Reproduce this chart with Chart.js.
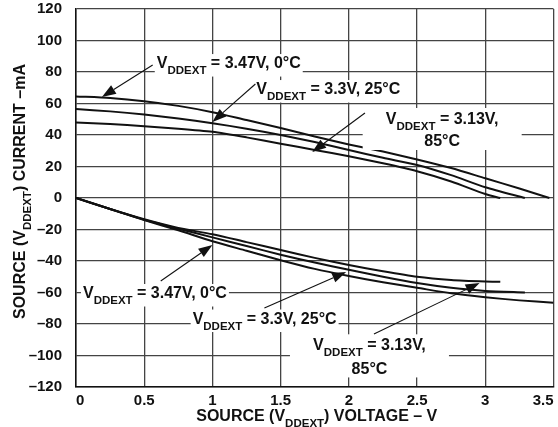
<!DOCTYPE html>
<html>
<head>
<meta charset="utf-8">
<script src="https://cdn.jsdelivr.net/npm/chart.js@4.4.1/dist/chart.umd.min.js"></script>
<style>
  html, body { margin: 0; padding: 0; background: #fff; }
  #wrap { width: 558px; height: 427px; }
</style>
</head>
<body>
<div id="wrap"><canvas id="chartIV"></canvas></div>
<script>
// source current (mA) vs source voltage (V)
const posV347 = [0, 0.25, 0.5, 0.75, 1, 1.25, 1.5, 1.75, 2, 2.25, 2.5, 2.75, 3, 3.25, 3.47];
const posI347 = [64.5, 63.5, 61.5, 58.5, 54.5, 49.5, 44.5, 39, 34, 29.5, 24.5, 19, 12.5, 6, 0];
const posV330 = [0, 0.25, 0.5, 0.75, 1, 1.25, 1.5, 1.75, 2, 2.25, 2.5, 2.75, 3, 3.29];
const posI330 = [56.5, 55, 53, 50.5, 47.5, 44, 40, 35.5, 30.5, 25.5, 21, 14.5, 6.8, 0];
const posV313 = [0, 0.25, 0.5, 0.75, 1, 1.25, 1.5, 1.75, 2, 2.25, 2.5, 2.75, 3, 3.11];
const posI313 = [48, 47, 45.5, 44, 42, 38.5, 34.5, 30.5, 26.5, 22, 17, 10.5, 2.5, 0];

const negV347 = [0, 0.25, 0.5, 0.75, 1, 1.25, 1.5, 1.75, 2, 2.25, 2.5, 2.75, 3, 3.25, 3.5];
const negI347 = [0, -7, -14, -20.5, -27.5, -33.5, -39.5, -45, -49.5, -53.5, -57, -60.5, -63, -65, -66.5];
const negV330 = [0, 0.25, 0.5, 0.75, 1, 1.25, 1.5, 1.75, 2, 2.25, 2.5, 2.75, 3, 3.29];
const negI330 = [0, -7, -13.8, -19.5, -25, -30.5, -36, -41, -45.5, -50, -54, -57, -59, -60];
const negV313 = [0, 0.25, 0.5, 0.75, 1, 1.25, 1.5, 1.75, 2, 2.25, 2.5, 2.75, 3, 3.11];
const negI313 = [0, -7, -13.5, -19, -23, -28, -33, -38, -42.5, -46.5, -50, -52, -53, -53.2];

const xTicks = [0, 0.5, 1, 1.5, 2, 2.5, 3, 3.5];
const yTicks = [-120, -100, -80, -60, -40, -20, 0, 20, 40, 60, 80, 100, 120];

const FONT = "'Liberation Sans', Arial, Helvetica, sans-serif";

function pts(xs, ys) { return xs.map((x, i) => ({ x: x, y: ys[i] })); }

function curve(xs, ys) {
  return { data: pts(xs, ys), showLine: true, pointRadius: 0, borderColor: '#111',
           borderWidth: 2, tension: 0.25, fill: false };
}

// callouts, placed in data units
const notes = [
  { at: [0.592, 82.5], rows: [' = 3.47V, 0\u00B0C'], tail: [0.562, 84.4], tip: [0.19, 64.1] },
  { at: [1.322, 66.0], rows: [' = 3.3V, 25\u00B0C'], tail: [1.315, 72.4], tip: [1.0, 48.3] },
  { at: [2.684, 47.0, 32.7], rows: [' = 3.13V,', '85\u00B0C'], tail: [2.118, 54.0], tip: [1.731, 29.2] },
  { at: [0.051, -63.5], rows: [' = 3.47V, 0\u00B0C'], tail: [0.621, -52.7], tip: [1.0, -29.8] },
  { at: [0.855, -79.7], rows: [' = 3.3V, 25\u00B0C'], tail: [1.381, -69.8], tip: [1.98, -47.0] },
  { at: [2.151, -96.7, -111.7], rows: [' = 3.13V,', '85\u00B0C'], tail: [2.184, -86.3], tip: [2.958, -54.0] }
];

function setFont(ctx, sub) { ctx.font = (sub ? 'bold 11.5px ' : 'bold 16px ') + FONT; }

function richWidth(ctx, parts) {
  let w = 0;
  parts.forEach(p => { setFont(ctx, p.sub); w += ctx.measureText(p.t).width; });
  return w;
}

function drawRich(ctx, parts, x, y) {
  let cx = x;
  parts.forEach(p => {
    setFont(ctx, p.sub);
    ctx.fillText(p.t, cx, p.sub ? y + 6 : y);
    cx += ctx.measureText(p.t).width;
  });
}

function arrow(ctx, x0, y0, x1, y1) {
  const a = Math.atan2(y1 - y0, x1 - x0), len = 14, hw = 5;
  const bx = x1 - len * Math.cos(a), by = y1 - len * Math.sin(a);
  ctx.lineWidth = 1.1;
  ctx.beginPath(); ctx.moveTo(x0, y0); ctx.lineTo(bx, by); ctx.stroke();
  ctx.beginPath();
  ctx.moveTo(x1, y1);
  ctx.lineTo(bx + hw * Math.sin(a), by - hw * Math.cos(a));
  ctx.lineTo(bx - hw * Math.sin(a), by + hw * Math.cos(a));
  ctx.closePath(); ctx.fill();
}

const callouts = {
  id: 'callouts',
  afterDatasetsDraw(chart) {
    const ctx = chart.ctx, sx = chart.scales.x, sy = chart.scales.y, ca = chart.chartArea;
    ctx.save();
    ctx.textBaseline = 'alphabetic';
    notes.forEach(n => {
      const first = [{ t: 'V' }, { t: 'DDEXT', sub: true }, { t: n.rows[0] }];
      const px = sx.getPixelForValue(n.at[0]);
      const b1 = sy.getPixelForValue(n.at[1]);
      if (n.rows.length === 1) {
        const w = richWidth(ctx, first);
        ctx.fillStyle = '#fff';
        ctx.fillRect(px - 2, b1 - 14, w + 4, 22.5);
        ctx.fillStyle = '#111';
        drawRich(ctx, first, px, b1);
      } else {
        const b2 = sy.getPixelForValue(n.at[2]);
        ctx.fillStyle = '#fff';
        ctx.fillRect(px - 79.5, b1 - 16, 159, b2 - b1 + 19.5);
        ctx.fillStyle = '#111';
        drawRich(ctx, first, px - richWidth(ctx, first) / 2, b1);
        const second = [{ t: n.rows[1] }];
        drawRich(ctx, second, px - richWidth(ctx, second) / 2, b2);
      }
      ctx.strokeStyle = '#111';
      arrow(ctx, sx.getPixelForValue(n.tail[0]), sy.getPixelForValue(n.tail[1]),
                 sx.getPixelForValue(n.tip[0]), sy.getPixelForValue(n.tip[1]));
    });

    // axis titles with subscripts
    ctx.fillStyle = '#111';
    const xt = [{ t: 'SOURCE (V' }, { t: 'DDEXT', sub: true }, { t: ') VOLTAGE \u2013 V' }];
    drawRich(ctx, xt, (ca.left + ca.right) / 2 + 2 - richWidth(ctx, xt) / 2, 421);
    const yt = [{ t: 'SOURCE (V' }, { t: 'DDEXT', sub: true }, { t: ') CURRENT \u2013mA' }];
    ctx.translate(25, 191.5);
    ctx.rotate(-Math.PI / 2);
    drawRich(ctx, yt, -richWidth(ctx, yt) / 2, 0);
    ctx.restore();
  }
};

new Chart(document.getElementById('chartIV'), {
  type: 'scatter',
  data: {
    datasets: [
      curve(posV347, posI347), curve(posV330, posI330), curve(posV313, posI313),
      curve(negV347, negI347), curve(negV330, negI330), curve(negV313, negI313)
    ]
  },
  options: {
    responsive: true,
    maintainAspectRatio: false,
    animation: false,
    devicePixelRatio: 1,
    layout: { padding: { top: 9, right: 4.5, left: 0, bottom: 0 } },
    plugins: { legend: { display: false }, tooltip: { enabled: false } },
    scales: {
      x: {
        type: 'linear', min: 0, max: 3.5,
        afterBuildTicks: s => { s.ticks = xTicks.map(v => ({ value: v })); },
        afterFit: s => { s.height = 40; s.paddingLeft = 0; s.paddingRight = 0; },
        ticks: { font: { family: FONT, size: 15, weight: 'bold' }, color: '#111',
                 padding: 5, align: 'inner', maxRotation: 0, autoSkip: false,
                 callback: v => String(v) },
        grid: { color: '#444', lineWidth: 1.3, drawTicks: false },
        border: { color: '#111', width: 1.5 }
      },
      y: {
        type: 'linear', min: -120, max: 120,
        afterBuildTicks: s => { s.ticks = yTicks.map(v => ({ value: v })); },
        afterFit: s => { s.width = 76; s.paddingTop = 0; s.paddingBottom = 0; },
        ticks: { font: { family: FONT, size: 15, weight: 'bold' }, color: '#111',
                 padding: 14, autoSkip: false,
                 callback: v => v < 0 ? '\u2013' + (-v) : String(v) },
        grid: { color: '#444', lineWidth: 1.3, drawTicks: false },
        border: { color: '#111', width: 1.5 }
      }
    }
  },
  plugins: [callouts]
});
</script>
</body>
</html>
